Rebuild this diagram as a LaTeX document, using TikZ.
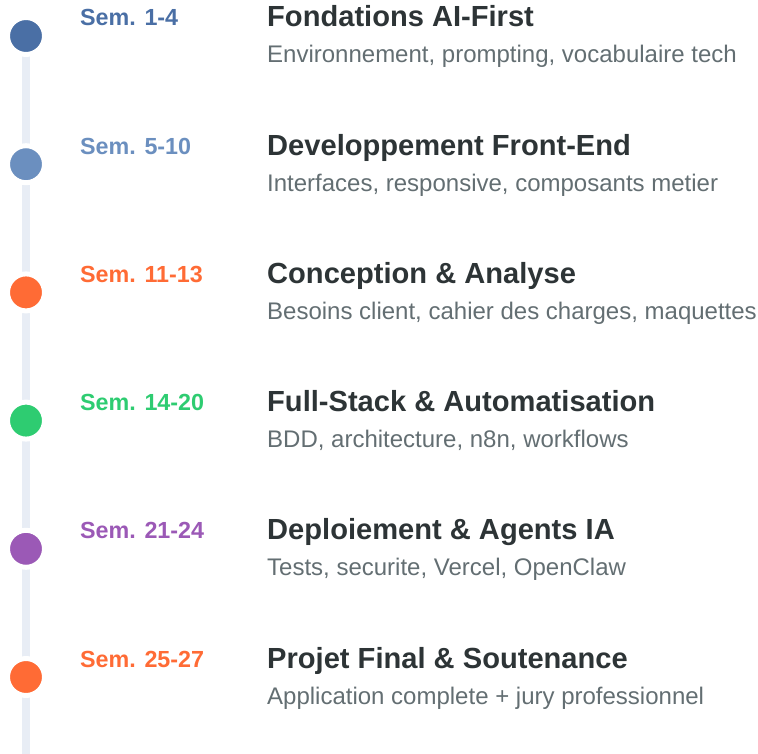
\documentclass[tikz,border=0pt]{standalone}
\usepackage{fontspec}
\setmainfont{Liberation Sans}
\usetikzlibrary{backgrounds}
\definecolor{cA}{HTML}{4A6FA5}
\definecolor{cB}{HTML}{6B8FBF}
\definecolor{cC}{HTML}{FF6B35}
\definecolor{cD}{HTML}{2ECC71}
\definecolor{cE}{HTML}{9B59B6}
\definecolor{ctitle}{HTML}{2D3436}
\definecolor{csub}{HTML}{636E72}
\definecolor{cline}{HTML}{E8EDF5}
\tikzset{
  dot/.style={circle, minimum size=37pt, inner sep=0pt, outer sep=0pt, fill=#1, draw=white, line width=5pt},
  semlbl/.style={anchor=base west, inner sep=0pt, text=#1, font=\fontsize{23.3}{26}\selectfont\bfseries},
  titlelbl/.style={anchor=base west, inner sep=0pt, text=ctitle, font=\fontsize{29.1}{32}\selectfont\bfseries},
  sublbl/.style={anchor=base west, inner sep=0pt, text=csub, font=\fontsize{24}{27}\selectfont},
  rail/.style={draw=cline, line width=8pt}
}
\begin{document}
\begin{tikzpicture}[x=1pt,y=1pt]
\useasboundingbox (0,0) rectangle (758,-754);
\coordinate (railend) at (26,-754);
\foreach \i/\col/\sem/\ti/\su in {
 0/cA/{Sem. 1-4}/{Fondations AI-First}/{Environnement, prompting, vocabulaire tech},
 1/cB/{Sem. 5-10}/{Developpement Front-End}/{Interfaces, responsive, composants metier},
 2/cC/{Sem. 11-13}/{Conception \& Analyse}/{Besoins client, cahier des charges, maquettes},
 3/cD/{Sem. 14-20}/{Full-Stack \& Automatisation}/{BDD, architecture, n8n, workflows},
 4/cE/{Sem. 21-24}/{Deploiement \& Agents IA}/{Tests, securite, Vercel, OpenClaw},
 5/cC/{Sem. 25-27}/{Projet Final \& Soutenance}/{Application complete + jury professionnel}}{
  \pgfmathsetmacro{\yc}{-36-128.2*\i}
  \node[dot=\col] (d\i) at (26,\yc) {};
  \node[semlbl=\col] (s\i) at (80,\yc+10) {\sem};
  \node[titlelbl] (t\i) at (267,\yc+9) {\ti};
  \node[sublbl] (u\i) at (267,\yc-27) {\su};
}
\begin{pgfonlayer}{background}
\draw[rail] (d0.center) -- (railend);
\end{pgfonlayer}
\end{tikzpicture}
\end{document}
